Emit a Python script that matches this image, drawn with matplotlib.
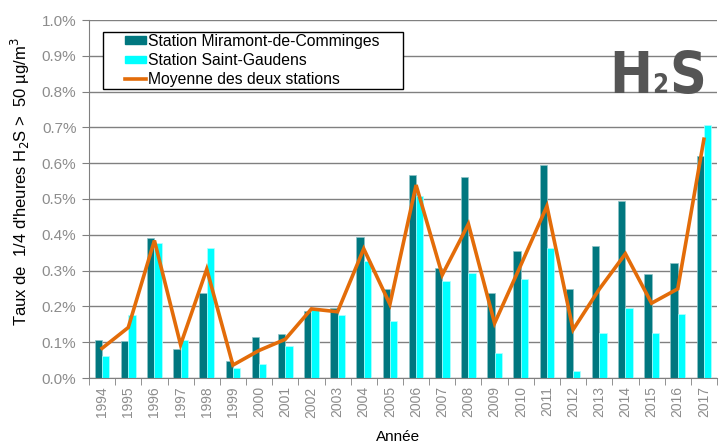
import matplotlib
matplotlib.use("Agg")
import matplotlib.pyplot as plt
import matplotlib.patches as mpatches
from matplotlib import font_manager
from matplotlib.lines import Line2D
import numpy as np

plt.rcParams["font.family"] = ["Liberation Sans", "DejaVu Sans"]

years = [str(y) for y in range(1994, 2018)]

# taux en % des 1/4 d'heures > 50 µg/m3
miramont = [0.106, 0.102, 0.391, 0.080, 0.238, 0.047, 0.115, 0.124, 0.188, 0.196,
            0.395, 0.249, 0.567, 0.307, 0.562, 0.238, 0.354, 0.596, 0.249, 0.369,
            0.494, 0.290, 0.322, 0.621]
saint_gaudens = [0.061, 0.176, 0.377, 0.106, 0.364, 0.027, 0.040, 0.090, 0.195, 0.176,
                 0.327, 0.159, 0.508, 0.270, 0.294, 0.070, 0.277, 0.364, 0.020, 0.126,
                 0.196, 0.126, 0.178, 0.707]
moyenne = [0.083, 0.141, 0.384, 0.093, 0.304, 0.036, 0.077, 0.108, 0.193, 0.185,
           0.361, 0.206, 0.539, 0.288, 0.430, 0.153, 0.315, 0.480, 0.135, 0.248,
           0.347, 0.209, 0.249, 0.667]

dark = "#00777f"
cyan = "#00ffff"
orange = "#e36c09"
grey_txt = "#8c8c8c"

W, H = 726, 446
fig = plt.figure(figsize=(W / 100, H / 100), dpi=100)
ax = fig.add_axes([89 / W, (H - 378) / H, 628 / W, 358 / H])

x = np.arange(len(years))
bw = 0.28
ax.bar(x - bw / 2, miramont, bw, color=dark, edgecolor="#8fc4c7", linewidth=0.5, zorder=2)
ax.bar(x + bw / 2, saint_gaudens, bw, color=cyan, edgecolor="#b0ffff", linewidth=0.5, zorder=2)
ax.plot(x, moyenne, color=orange, lw=2.6, zorder=3, solid_joinstyle="miter")

ax.set_xlim(-0.5, len(years) - 0.5)
ax.set_ylim(0, 1.0)
yt = np.arange(0, 1.01, 0.1)
ax.set_yticks(yt)
ax.set_yticklabels(["{:.1f}%".format(v) for v in yt], color=grey_txt, fontsize=11)
ax.yaxis.grid(True, color="#808080", lw=1.0, zorder=0)
ax.set_axisbelow(True)

ax.set_xticks(x)
ax.set_xticklabels(years, rotation=90, color=grey_txt, fontsize=10)
ax.set_xticks(np.arange(-0.5, len(years)), minor=True)
ax.tick_params(axis="x", which="major", length=0, pad=6)
ax.tick_params(axis="x", which="minor", length=5, color="#808080")
ax.tick_params(axis="y", length=5, color="#808080", pad=4)

for s in ["top", "right"]:
    ax.spines[s].set_visible(False)
for s in ["left", "bottom"]:
    ax.spines[s].set_color("#808080")

fig.text(20 / W, 1 - 182 / H, "Taux de  1/4 d'heures H$_2$S >  50 µg/m$^3$",
         rotation=90, ha="center", va="center", fontsize=12)
fig.text(398 / W, 1 - 437 / H, "Année", ha="center", va="center", fontsize=11)

# legende : cadre dessiné à part pour avoir la marge gauche d'Excel
handles = [mpatches.Patch(color=dark), mpatches.Patch(color=cyan),
           Line2D([], [], color=orange, lw=2.6)]
labels = ["Station Miramont-de-Comminges", "Station Saint-Gaudens",
          "Moyenne des deux stations"]
leg = fig.legend(handles, labels, loc="upper left",
                 bbox_to_anchor=(125 / W, 1 - 34 / H),
                 borderaxespad=0, borderpad=0, fontsize=11.3, frameon=False,
                 handlelength=1.34, handleheight=0.4, handletextpad=0.13,
                 labelspacing=0.26)
fig.patches.append(mpatches.Rectangle((103 / W, 1 - 89 / H), 300 / W, 57 / H,
                                      transform=fig.transFigure, facecolor="white",
                                      edgecolor="black", lw=1.0, zorder=4))
leg.set_zorder(5)

# logo H2S
names = {f.name for f in font_manager.fontManager.ttflist}
if "Liberation Sans Narrow" in names:
    logo_kw = dict(family="Liberation Sans Narrow", fontweight="bold")
else:
    logo_kw = dict(family="DejaVu Sans", fontweight="bold", fontstretch="condensed")
logo_col = "#555555"

fig.canvas.draw()
rend = fig.canvas.get_renderer()


def logo_width(size):
    ws = []
    for s, f in [("H", 1.0), ("2", 0.45), ("S", 1.0)]:
        t = fig.text(0, 0, s, fontsize=size * f, **logo_kw)
        ws.append(t.get_window_extent(rend).width)
        t.remove()
    return sum(ws)


size = 54
size = min(54, size * 96 / logo_width(size))
xpos = 609
for s, f in [("H", 1.0), ("2", 0.45), ("S", 1.0)]:
    t = fig.text(xpos / W, 1 - 93 / H, s, fontsize=size * f, color=logo_col,
                 ha="left", va="baseline", **logo_kw)
    xpos = t.get_window_extent(rend).x1 + 0.5

fig.savefig("out.png", dpi=100)
